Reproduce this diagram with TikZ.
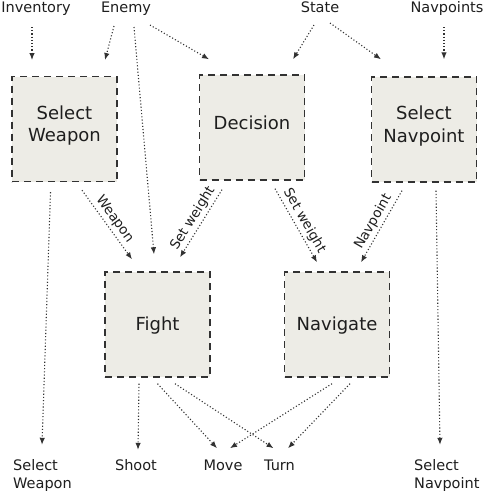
\documentclass[tikz,border=0pt]{standalone}
\usepackage{fontspec}
\setmainfont{DejaVu Sans}
\usetikzlibrary{arrows.meta}
\definecolor{boxfill}{RGB}{237,236,230}
\definecolor{boxline}{RGB}{50,50,50}
\definecolor{txt}{RGB}{30,30,30}
\begin{document}
\begin{tikzpicture}[x=1pt,y=-1pt,
  box/.style={draw=boxline,fill=boxfill,line width=1.4pt,dash pattern=on 7pt off 5pt,
    minimum width=105pt,minimum height=105pt,inner sep=0pt,align=center,
    font=\fontsize{18}{22.5}\selectfont,text=txt,text height=13pt,text depth=9pt},
  twoline/.style={text height=34pt},
  lowline/.style={text depth=1pt},
  lbl/.style={font=\fontsize{14.5}{18}\selectfont,text=txt,inner sep=0pt,align=left},
  arr/.style={line width=1.1pt,dash pattern=on 1.1pt off 2.1pt,color=boxline,
    -{Latex[length=7pt,width=5.5pt]}},
  alab/.style={font=\fontsize{13.5}{15}\selectfont,text=txt,sloped,above,inner sep=2.5pt}]
\useasboundingbox (0,0) rectangle (484,491);
% boxes
\node[box,twoline] (sw)    at (64.5,129)  {Select\\Weapon};
\node[box] (dec)   at (252,127.5) {Decision};
\node[box,twoline] (sn)    at (424,129.5) {Select\\Navpoint};
\node[box,lowline] (fight) at (157.5,324.5) {Fight};
\node[box,lowline] (nav)   at (337,324.5) {Navigate};
% top labels
\node[lbl,anchor=base] (inv)   at (36,12)  {Inventory};
\node[lbl,anchor=base] (enemy) at (126,12) {Enemy};
\node[lbl,anchor=base] (state) at (320,12) {State};
\node[lbl,anchor=base] (navp)  at (447,12) {Navpoints};
% bottom labels
\node[lbl,anchor=base west] (osw) at (13,488) {Select\\Weapon};
\node[lbl,anchor=base] (shoot) at (136,470) {Shoot};
\node[lbl,anchor=base] (move)  at (223,470) {Move};
\node[lbl,anchor=base] (turn)  at (279.5,470) {Turn};
\node[lbl,anchor=base west] (osn) at (414,488) {Select\\Navpoint};
% inputs
\draw[arr] ([shift={(-4,15)}]inv.base) -- ([shift={(-4,48)}]inv.base);
\draw[arr] ([shift={(-12,14)}]enemy.base) -- ([shift={(-21,48)}]enemy.base);
\draw[arr] ([shift={(8,15)}]enemy.base) -- ([shift={(-3.5,-17)}]fight.north);
\draw[arr] ([shift={(24,13)}]enemy.base) -- ([shift={(-43,-15)}]dec.north);
\draw[arr] ([shift={(-6,13)}]state.base) -- ([shift={(41,-15)}]dec.north);
\draw[arr] ([shift={(10,11)}]state.base) -- ([shift={(-43,-17)}]sn.north);
\draw[arr] ([shift={(-3,15)}]navp.base) -- ([shift={(20,-17)}]sn.north);
% middle
\draw[arr] ([shift={(-14,10)}]sw.south) -- ([shift={(29,-14)}]osw.north west);
\draw[arr] ([shift={(17.5,8)}]sw.south) -- node[alab]{Weapon} ([shift={(-25.5,-12)}]fight.north);
\draw[arr] ([shift={(-30,9)}]dec.south) -- node[alab]{Set weight} ([shift={(22.5,-14)}]fight.north);
\draw[arr] ([shift={(23,8)}]dec.south) -- node[alab]{Set weight} ([shift={(-20,-9)}]nav.north);
\draw[arr] ([shift={(-22,8)}]sn.south) -- node[alab]{Navpoint} ([shift={(24,-9)}]nav.north);
\draw[arr] ([shift={(12,8)}]sn.south) -- ([shift={(26,-14)}]osn.north west);
% outputs
\draw[arr] ([shift={(-18.5,6)}]fight.south) -- ([shift={(2,-9)}]shoot.north);
\draw[arr] ([shift={(0,6)}]fight.south) -- ([shift={(-6,-11)}]move.north);
\draw[arr] ([shift={(17.5,6)}]fight.south) -- ([shift={(-6,-11)}]turn.north);
\draw[arr] ([shift={(-5,6)}]nav.south) -- ([shift={(7,-11)}]move.north);
\draw[arr] ([shift={(13,6)}]nav.south) -- ([shift={(8.5,-11)}]turn.north);
\end{tikzpicture}
\end{document}
